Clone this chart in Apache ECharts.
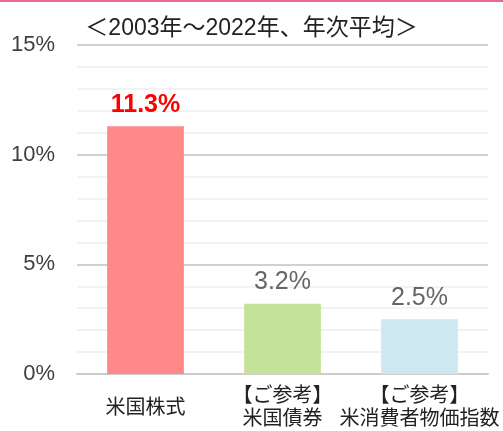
<!DOCTYPE html>
<html>
<head>
<meta charset="utf-8">
<script src="https://cdn.jsdelivr.net/npm/echarts@6/dist/echarts.min.js"></script>
<style>
  html, body { margin: 0; padding: 0; background: #fff; }
  #chart { width: 503px; height: 431px; box-sizing: border-box; border-top: 2px solid #e8689c; }
</style>
</head>
<body>
<div id="chart"></div>
<script>
// data
const categories = ['米国株式', '【ご参考】\n米国債券', '【ご参考】\n米消費者物価指数'];
const values = [11.3, 3.2, 2.5];
const barColors = ['#ff8888', '#c4e29a', '#cde8f0'];
const labelColors = ['#ff0000', '#666666', '#666666'];
const titleText = '＜2003年～2022年、年次平均＞';

const font = '"Liberation Sans", Arial, "Noto Sans CJK JP", sans-serif';

const chart = echarts.init(document.getElementById('chart'), null, { renderer: 'canvas' });

const option = {
    animation: false,
    title: {
        text: titleText,
        left: 'center',
        top: 10,
        textStyle: { fontSize: 23, fontWeight: 'normal', color: '#222', fontFamily: font },
    },
    grid: { left: 77, right: 15, top: 43, bottom: 56 },
    xAxis: {
        type: 'category',
        data: categories,
        axisLine: { lineStyle: { color: '#cccccc', width: 2 } },
        axisTick: { show: false },
        axisLabel: {
            interval: 0,
            color: '#222',
            fontSize: 20,
            lineHeight: 23,
            fontFamily: font,
            verticalAlign: 'middle',
            margin: 34,
        },
    },
    yAxis: {
        type: 'value',
        min: 0,
        max: 15,
        interval: 5,
        axisLine: { show: false },
        axisTick: { show: false },
        axisLabel: {
            formatter: '{value}%',
            color: '#404040',
            fontSize: 22,
            fontFamily: font,
            margin: 22,
        },
        splitLine: { lineStyle: { color: '#d0d0d0', width: 2 } },
        minorTick: { show: false, splitNumber: 5 },
        minorSplitLine: { show: true, lineStyle: { color: '#f2f2f2', width: 2 } },
    },
    series: [
        {
            type: 'bar',
            barWidth: '56%',
            data: values.map((v, i) => ({
                value: v,
                itemStyle: { color: barColors[i] },
                label: {
                    color: labelColors[i],
                    fontWeight: i === 0 ? 'bold' : 'normal',
                },
            })),
            label: {
                show: true,
                position: 'top',
                distance: 9,
                fontSize: 25,
                fontFamily: font,
                formatter: p => p.value.toFixed(1) + '%',
            },
        },
    ],
};

chart.setOption(option);
</script>
</body>
</html>
